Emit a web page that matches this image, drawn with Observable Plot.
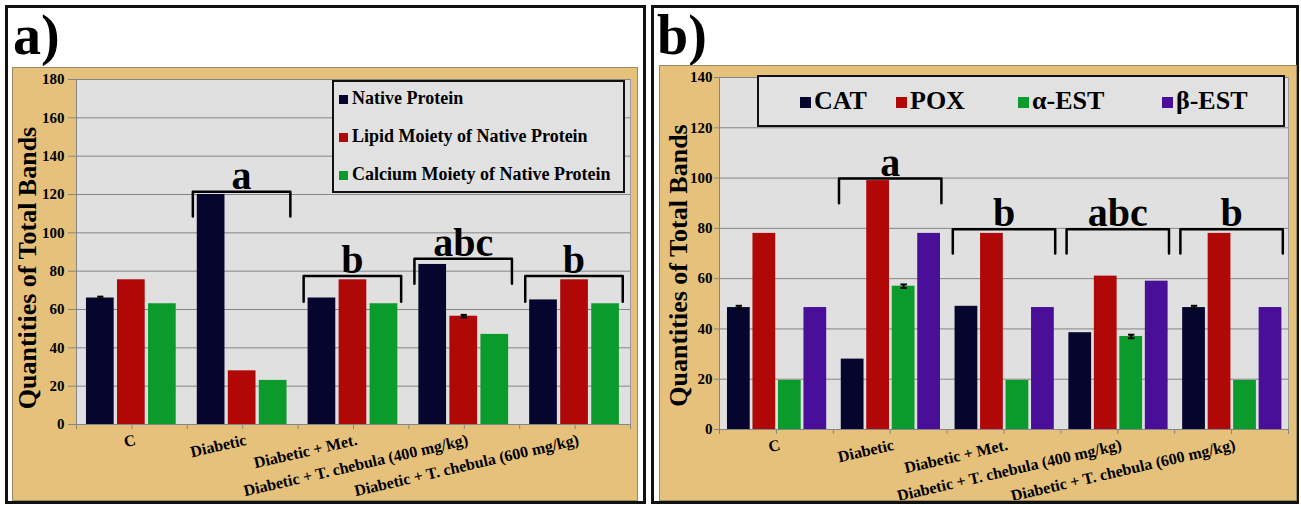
<!DOCTYPE html>
<html><head><meta charset="utf-8">
<script src="https://cdn.jsdelivr.net/npm/d3@7"></script>
<script src="https://cdn.jsdelivr.net/npm/@observablehq/plot@0.6"></script>
<style>
html,body{margin:0;padding:0;}
body{width:1301px;height:505px;background:#fff;position:relative;overflow:hidden;font-family:"Liberation Serif","Times New Roman",serif;font-weight:bold;color:#000;}
.panel{position:absolute;border:3px solid #111;box-sizing:border-box;}
.tag{position:absolute;font-size:56px;line-height:56px;white-space:nowrap;}
.chart{position:absolute;}
.chart svg{display:block;outline:1px solid #9c8a62;}
.legend{position:absolute;border:2px solid #111;background:#e1e1e1;box-sizing:border-box;}
.entry{position:absolute;white-space:nowrap;}
.sw{display:inline-block;vertical-align:baseline;}
</style></head>
<body>
<script>
// ---------- data ----------
const groups = ["C", "Diabetic", "Diabetic + Met.", "Diabetic + T. chebula (400 mg/kg)", "Diabetic + T. chebula (600 mg/kg)"];
const yTitle = "Quantities of Total Bands";

// panel a
const seriesA = ["Native Protein", "Lipid Moiety of Native Protein", "Calcium Moiety of Native Protein"];
const colorsA = ["#05052e", "#b00707", "#0b9a2c"];
const nativeProtein = [66, 120, 66, 83.5, 65];
const lipidMoiety = [75.5, 28, 75.5, 56.5, 75.5];
const calciumMoiety = [63, 23, 63, 47, 63];
const errNative = [0.7, 0, 0, 0, 0];
const errLipid = [0, 0, 0, 0.7, 0];
const errCalcium = [0, 0, 0, 0, 0];
const yTicksA = [0, 20, 40, 60, 80, 100, 120, 140, 160, 180];
const lettersA = ["a", "b", "abc", "b"];
const bracketGroupsA = [1, 2, 3, 4];
const bracketTopA = [121.5, 77.5, 86.5, 77.5];
const bracketLegA = [108.5, 64, 73.5, 64];

// panel b
const seriesB = ["CAT", "POX", "α-EST", "β-EST"];
const colorsB = ["#05052e", "#b00707", "#0b9a2c", "#4a0f98"];
const cat = [48.5, 28, 49, 38.5, 48.5];
const pox = [78, 99, 78, 61, 78];
const alphaEst = [19.5, 57, 19.5, 37, 19.5];
const betaEst = [48.5, 78, 48.5, 59, 48.5];
const errCat = [0.7, 0, 0, 0, 0.7];
const errPox = [0, 0, 0, 0, 0];
const errAlpha = [0, 0.7, 0, 0.7, 0];
const errBeta = [0, 0, 0, 0, 0];
const yTicksB = [0, 20, 40, 60, 80, 100, 120, 140];
const lettersB = ["a", "b", "abc", "b"];
const bracketGroupsB = [1, 2, 3, 4];
const bracketTopB = [99.8, 79.6, 79.6, 79.6];
const bracketLegB = [90, 70, 70, 70];

// ---------- helpers ----------
function el(tag, cls, css, parent) {
  const e = document.createElement(tag);
  if (cls) e.className = cls;
  Object.assign(e.style, css || {});
  (parent || document.body).appendChild(e);
  return e;
}

function makeChart(cfg) {
  const rows = [];
  cfg.series.forEach((s, si) => cfg.values[si].forEach((v, gi) =>
    rows.push({gi, si, series: s, value: v, err: cfg.errors[si][gi]})));
  const x1 = d => d.gi + cfg.barStart + d.si * cfg.barStep;
  const x2 = d => x1(d) + cfg.barWidth;
  const xc = d => x1(d) + cfg.barWidth / 2;
  const errRows = rows.filter(d => d.err > 0);
  const cap = 0.028;
  const brackets = cfg.letters.map((letter, j) => ({j, letter, gi: cfg.bracketGroups[j], top: cfg.bracketTop[j], leg: cfg.bracketLeg[j]}));
  const bracketPts = brackets.flatMap(b => [
    {j: b.j, x: b.gi + cfg.bl, y: b.leg}, {j: b.j, x: b.gi + cfg.bl, y: b.top},
    {j: b.j, x: b.gi + cfg.br, y: b.top}, {j: b.j, x: b.gi + cfg.br, y: b.leg}]);
  const labels = groups.map((g, i) => ({g, i}));
  const tickPos = d3.range(0, groups.length * 2 + 1).map(k => k / 2);
  return Plot.plot({
    width: cfg.width, height: cfg.height,
    marginLeft: cfg.ml, marginRight: cfg.mr, marginTop: cfg.mt, marginBottom: cfg.mb,
    x: {domain: [0, groups.length], axis: null},
    y: {domain: [0, cfg.yTicks[cfg.yTicks.length - 1]], axis: null},
    color: {domain: cfg.series, range: cfg.colors},
    style: {background: "#e5c17c", fontFamily: "'Liberation Serif', 'Times New Roman', serif", fontWeight: "bold", color: "black", overflow: "visible"},
    marks: [
      Plot.frame({fill: "#e0e0e0", stroke: "#9a9a9a"}),
      Plot.gridY({ticks: cfg.yTicks, stroke: "#858585", strokeOpacity: 1}),
      Plot.axisY({ticks: cfg.yTicks, tickSize: cfg.tickSizeY, tickPadding: cfg.tickPadY, fontSize: 15, stroke: "#858585", fill: "black", label: null}),
      Plot.axisX({ticks: tickPos, tickSize: 5, tickFormat: () => "", stroke: "#858585", label: null}),
      Plot.ruleX([0], {stroke: "#858585"}),
      Plot.ruleY([0], {stroke: "#858585"}),
      Plot.rect(rows, {x1, x2, y1: 0, y2: "value", fill: "series"}),
      Plot.link(errRows, {x1: xc, x2: xc, y1: d => d.value - d.err, y2: d => d.value + d.err, stroke: "black", strokeWidth: 2}),
      Plot.link(errRows, {x1: d => xc(d) - cap, x2: d => xc(d) + cap, y1: d => d.value + d.err, y2: d => d.value + d.err, stroke: "black", strokeWidth: 2}),
      Plot.link(errRows, {x1: d => xc(d) - cap, x2: d => xc(d) + cap, y1: d => d.value - d.err, y2: d => d.value - d.err, stroke: "black", strokeWidth: 2}),
      Plot.line(bracketPts, {x: "x", y: "y", z: "j", stroke: "black", strokeWidth: 2.5}),
      Plot.text(brackets, {x: b => b.gi + (cfg.bl + cfg.br) / 2, y: "top", text: "letter", lineAnchor: "bottom", dy: -3, fontSize: 40, fill: "black"}),
      Plot.text(labels, {x: d => d.i + 0.5, y: 0, text: "g", rotate: -13, textAnchor: "end", lineAnchor: "top", dy: 9, dx: 2, fontSize: 16, fill: "black"}),
      Plot.text([yTitle], {text: d => d, frameAnchor: "left", rotate: -90, textAnchor: "middle", lineAnchor: "bottom", dx: cfg.titleDx, dy: cfg.titleDy, fontSize: 26, fill: "black"})
    ]
  });
}

// ---------- panel a ----------
el("div", "panel", {left: "5px", top: "5px", width: "641px", height: "499px"});
el("div", "tag", {left: "13px", top: "7px"}).textContent = "a)";
const wrapA = el("div", "chart", {left: "13px", top: "68px", width: "624px", height: "432px"});
wrapA.appendChild(makeChart({
  width: 624, height: 432, ml: 63, mr: 7, mt: 11, mb: 76,
  series: seriesA, colors: colorsA,
  values: [nativeProtein, lipidMoiety, calciumMoiety],
  errors: [errNative, errLipid, errCalcium],
  yTicks: yTicksA, tickSizeY: 8, tickPadY: 4,
  barStart: 0.09, barWidth: 0.25, barStep: 0.28,
  letters: lettersA, bracketGroups: bracketGroupsA, bracketTop: bracketTopA, bracketLeg: bracketLegA,
  bl: 0.05, br: 0.93, titleDx: -41, titleDy: 16
}));
const legA = el("div", "legend", {left: "332px", top: "80px", width: "293px", height: "113px"});
seriesA.forEach((s, i) => {
  const e = el("div", "entry", {left: "5px", top: (7 + i * 38) + "px", fontSize: "18px", lineHeight: "18px"}, legA);
  el("span", "sw", {width: "9px", height: "9px", background: colorsA[i], marginRight: "4px"}, e);
  e.appendChild(document.createTextNode(s));
});

// ---------- panel b ----------
el("div", "panel", {left: "651px", top: "5px", width: "648px", height: "499px"});
el("div", "tag", {left: "657px", top: "7px"}).textContent = "b)";
const wrapB = el("div", "chart", {left: "660px", top: "66px", width: "636px", height: "434px"});
wrapB.appendChild(makeChart({
  width: 636, height: 434, ml: 59, mr: 8, mt: 11, mb: 71,
  series: seriesB, colors: colorsB,
  values: [cat, pox, alphaEst, betaEst],
  errors: [errCat, errPox, errAlpha, errBeta],
  yTicks: yTicksB, tickSizeY: 5, tickPadY: 2,
  barStart: 0.07, barWidth: 0.2, barStep: 0.224,
  letters: lettersB, bracketGroups: bracketGroupsB, bracketTop: bracketTopB, bracketLeg: bracketLegB,
  bl: 0.05, br: 0.95, titleDx: -33, titleDy: 12
}));
const legB = el("div", "legend", {left: "757px", top: "75px", width: "528px", height: "52px"});
const legBLeft = [41, 137, 259, 403];
seriesB.forEach((s, i) => {
  const e = el("div", "entry", {left: legBLeft[i] + "px", top: "11px", fontSize: "26px", lineHeight: "26px"}, legB);
  el("span", "sw", {width: "11px", height: "11px", background: colorsB[i], marginRight: "3px", marginBottom: "1px"}, e);
  e.appendChild(document.createTextNode(s));
});
</script>
</body></html>
